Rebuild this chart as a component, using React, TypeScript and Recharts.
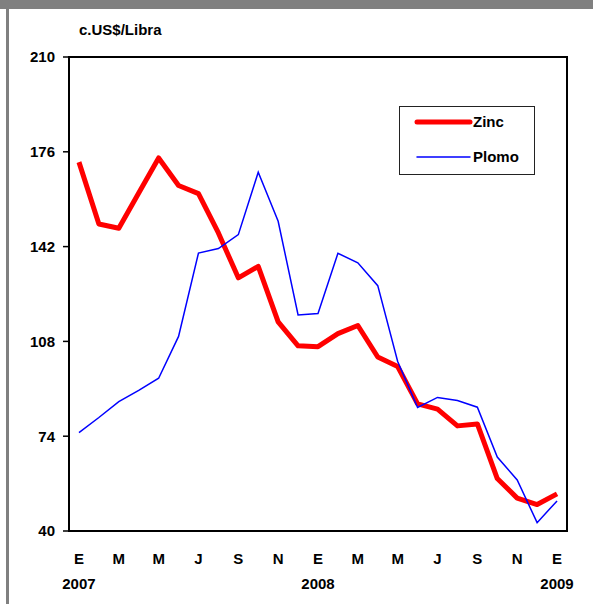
import { LineChart, Line, XAxis, YAxis, Legend, ReferenceArea } from 'recharts';

// Enero 2007 .. Enero 2009
const months = ['E', 'F', 'M', 'A', 'M', 'J', 'J', 'A', 'S', 'O', 'N', 'D',
  'E', 'F', 'M', 'A', 'M', 'J', 'J', 'A', 'S', 'O', 'N', 'D', 'E'];
const years = ['2007', '', '', '', '', '', '', '', '', '', '', '',
  '2008', '', '', '', '', '', '', '', '', '', '', '', '2009'];

const zinc = [172.3, 150.1, 148.6, 161.2, 173.8, 163.9, 161.0, 146.9, 130.8, 134.9, 115.0, 106.4,
  106.1, 110.8, 113.7, 102.4, 99.0, 85.6, 83.7, 77.7, 78.4, 58.8, 51.8, 49.5, 53.3];
const plomo = [75.3, 80.7, 86.4, 90.4, 94.8, 109.8, 139.7, 141.3, 146.3, 168.7, 151.1, 117.5,
  118.0, 139.6, 136.2, 128.0, 100.8, 84.3, 87.9, 86.8, 84.4, 66.5, 58.3, 43.0, 50.8];

const seriesNames = ['Zinc', 'Plomo'];
const yTicks = [40, 74, 108, 142, 176, 210];

const data = months.map((m, i) => ({ i, zinc: zinc[i], plomo: plomo[i] }));
const boundaryTicks = [...months.map((_, i) => i - 0.5), months.length - 0.5];
const labelTicks = months.map((_, i) => i).filter((i) => i % 2 === 0);
const xDomain = [-0.5, months.length - 0.5];

const font = '"Liberation Sans", Arial, sans-serif';

function MonthTick({ x, y, payload }: any) {
  const i = payload.value;
  return (
    <g>
      <text x={x} y={y + 23} textAnchor="middle" fontFamily={font} fontWeight="bold" fontSize={15} fill="#000">
        {months[i]}
      </text>
      {years[i] && (
        <text x={x} y={y + 48} textAnchor="middle" fontFamily={font} fontWeight="bold" fontSize={15} fill="#000">
          {years[i]}
        </text>
      )}
    </g>
  );
}

function LegendBox({ payload }: any) {
  const items = (payload || [])
    .filter((p: any) => seriesNames.includes(p.value))
    .sort((a: any, b: any) => seriesNames.indexOf(a.value) - seriesNames.indexOf(b.value));
  return (
    <div style={{ width: 136, height: 69, border: '1px solid #222', boxSizing: 'border-box', background: '#fff' }}>
      <svg width={134} height={67}>
        {items.map((p: any, k: number) => (
          <g key={p.value}>
            <line x1={17} x2={70} y1={15 + k * 35} y2={15 + k * 35} stroke={p.color}
              strokeWidth={p.value === 'Zinc' ? 5 : 1.5} strokeLinecap="round" />
            <text x={73} y={15 + k * 35} dy="0.35em" fontFamily={font} fontWeight="bold" fontSize={15} fill="#000">
              {p.value}
            </text>
          </g>
        ))}
      </svg>
    </div>
  );
}

export default function App() {
  return (
    <div style={{ position: 'fixed', left: 0, top: 0, width: 593, height: 604, background: '#fff' }}>
      <div style={{ position: 'absolute', left: 0, top: 0, width: 593, height: 9, background: '#808080' }} />
      <div style={{ position: 'absolute', left: 6, top: 0, width: 3, height: 604, background: '#808080' }} />
      <div style={{ position: 'absolute', left: 79, top: 21, fontFamily: font, fontWeight: 'bold', fontSize: 15, lineHeight: '17px' }}>
        c.US$/Libra
      </div>
      <LineChart width={593} height={604} data={data} margin={{ top: 57, right: 26, left: 0, bottom: 17 }}>
        <XAxis xAxisId="grid" dataKey="i" type="number" domain={xDomain} ticks={boundaryTicks} interval={0}
          tick={false} tickSize={6} height={8} allowDataOverflow
          axisLine={{ stroke: '#000', strokeWidth: 2 }} tickLine={{ stroke: '#000', strokeWidth: 1.5 }} />
        <XAxis xAxisId="lab" dataKey="i" type="number" domain={xDomain} ticks={labelTicks} interval={0}
          tick={<MonthTick />} tickSize={0} height={48} axisLine={false} tickLine={false} allowDataOverflow />
        <YAxis domain={[40, 210]} ticks={yTicks} interval={0} width={69} tickSize={6} tickMargin={8}
          allowDataOverflow axisLine={{ stroke: '#000', strokeWidth: 2 }} tickLine={{ stroke: '#000', strokeWidth: 1.5 }}
          tick={{ fill: '#000', fontFamily: font, fontWeight: 'bold', fontSize: 15 }} />
        <ReferenceArea xAxisId="grid" x1={xDomain[0]} x2={xDomain[1]} y1={40} y2={210}
          fill="none" stroke="#000" strokeWidth={2} ifOverflow="visible" />
        <Line xAxisId="lab" dataKey="zinc" stroke="none" dot={false} legendType="none" isAnimationActive={false} />
        <Line xAxisId="grid" dataKey="zinc" name="Zinc" stroke="#ff0000" strokeWidth={5} dot={false}
          strokeLinejoin="round" isAnimationActive={false} />
        <Line xAxisId="grid" dataKey="plomo" name="Plomo" stroke="#0000ff" strokeWidth={1.5} dot={false}
          isAnimationActive={false} />
        <Legend layout="horizontal" verticalAlign="middle" content={<LegendBox />}
          wrapperStyle={{ left: 399, top: 106, width: 136, height: 69 }} />
      </LineChart>
    </div>
  );
}
